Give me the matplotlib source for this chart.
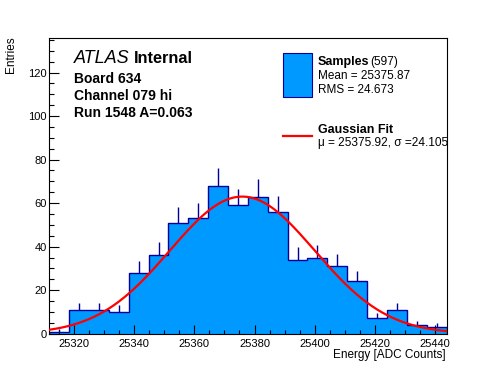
import numpy as np
import matplotlib
matplotlib.use("Agg")
import matplotlib.pyplot as plt
from matplotlib.patches import Rectangle
from matplotlib.lines import Line2D
from matplotlib.ticker import MultipleLocator

# =============================================================================
#                              DATOS
# =============================================================================

bin_lo = 25311.7
bin_hi = 25443.9
counts = [1, 11, 11, 10, 28, 36, 51, 53, 68, 59,
          63, 56, 34, 35, 31, 24, 7, 11, 4, 3]

fit_mu = 25375.92
fit_sigma = 24.105
fit_amp = 63.0

y_max = 136
x_ticks = [25320, 25340, 25360, 25380, 25400, 25420, 25440]
y_ticks = [0, 20, 40, 60, 80, 100, 120]

info_lines = ["Board 634", "Channel 079 hi", "Run 1548 A=0.063"]
leg_samples = ["Mean = 25375.87", "RMS = 24.673"]
leg_fit = "\u03bc = 25375.92, \u03c3 =24.105"

# =============================================================================
#                              FIGURA
# =============================================================================

plt.rcParams['font.family'] = ['Liberation Sans', 'DejaVu Sans']

W, H = 496, 372
fig = plt.figure(figsize=(W / 100, H / 100), dpi=100)
ax = fig.add_axes([49.3 / W, 1 - 333.7 / H, (446.5 - 49.3) / W, (333.7 - 37.7) / H])

fill_col = '#0099ff'
edge_col = '#000099'

edges = np.linspace(bin_lo, bin_hi, len(counts) + 1)
centers = 0.5 * (edges[:-1] + edges[1:])
counts_arr = np.array(counts, dtype=float)

ax.stairs(counts_arr, edges, fill=True, color=fill_col, zorder=1)
ax.stairs(counts_arr, edges, color=edge_col, linewidth=1.0, zorder=2)
# barras de error (solo parte superior visible)
ax.vlines(centers, counts_arr, counts_arr + np.sqrt(counts_arr), color=edge_col,
          linewidth=1.0, zorder=2)

xs = np.linspace(bin_lo, bin_hi, 400)
ax.plot(xs, fit_amp * np.exp(-0.5 * ((xs - fit_mu) / fit_sigma) ** 2),
        color='#ff0000', linewidth=1.6, zorder=3)

ax.set_xlim(bin_lo, bin_hi)
ax.set_ylim(0, y_max)
ax.set_xticks(x_ticks)
ax.set_yticks(y_ticks)
ax.xaxis.set_minor_locator(MultipleLocator(5))
ax.yaxis.set_minor_locator(MultipleLocator(5))
ax.tick_params(axis='both', which='both', direction='in', top=False, right=False,
               labelsize=8, width=0.8)
ax.tick_params(axis='x', which='major', length=6.3, pad=3.5)
ax.tick_params(axis='x', which='minor', length=3.2)
ax.tick_params(axis='y', which='major', length=7.2, pad=2)
ax.tick_params(axis='y', which='minor', length=3.6)
for s in ax.spines.values():
    s.set_linewidth(0.8)

fig.text(446 / W, 1 - 358 / H, "Energy [ADC Counts]", ha='right', va='baseline', fontsize=8.5)
fig.text(11 / W, 1 - 36 / H, "Entries", rotation=90, ha='center', va='top', fontsize=8.5)

# etiqueta ATLAS
fig.text(73.5 / W, 1 - 63.3 / H, "ATLAS", style='italic', fontsize=13, va='baseline')
fig.text(134.3 / W, 1 - 63.3 / H, "Internal", fontweight='bold', fontsize=11.7, va='baseline')
for i, t in enumerate(info_lines):
    fig.text(74 / W, 1 - (83.3 + 17 * i) / H, t, fontweight='bold', fontsize=10, va='baseline')

# leyenda manual
fig.add_artist(Rectangle((283.3 / W, 1 - 96.7 / H), 28.4 / W, 43.4 / H,
                         facecolor=fill_col, edgecolor=edge_col, linewidth=0.8,
                         transform=fig.transFigure))
fig.text(317.7 / W, 1 - 65 / H, "Samples", fontweight='bold', fontsize=9, va='baseline')
fig.text(370 / W, 1 - 65 / H, "(597)", fontsize=8.6, va='baseline')
for i, t in enumerate(leg_samples):
    fig.text(317.7 / W, 1 - (79 + 14.3 * i) / H, t, fontsize=8.5, va='baseline')

fig.add_artist(Line2D([283.3 / W, 311.7 / W], [1 - 135.7 / H, 1 - 135.7 / H],
                      color='#ff0000', linewidth=1.6, transform=fig.transFigure))
fig.text(317.7 / W, 1 - 132.7 / H, "Gaussian Fit", fontweight='bold', fontsize=9, va='baseline')
fig.text(317.7 / W, 1 - 146 / H, leg_fit, fontsize=8.6, va='baseline')

fig.savefig("out.png", dpi=100)
